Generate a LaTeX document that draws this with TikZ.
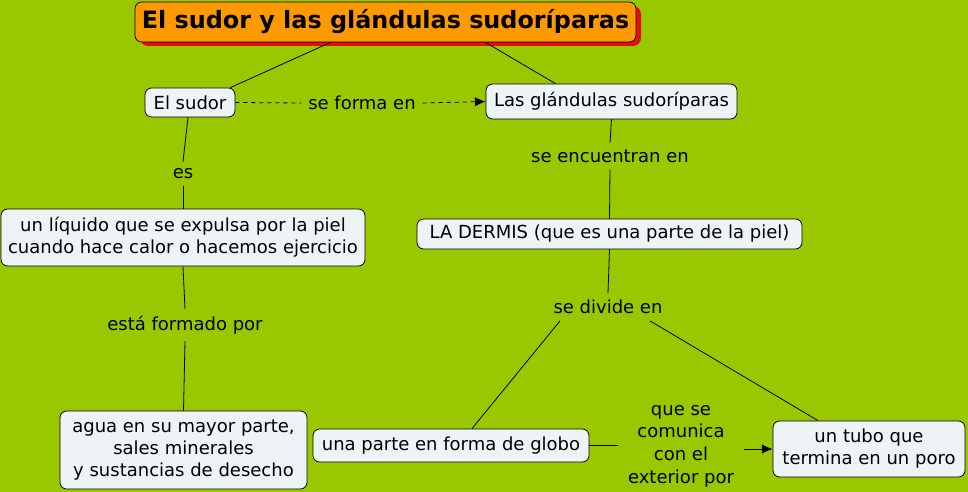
\documentclass[tikz,border=0pt]{standalone}
\usepackage{fontspec}
\setmainfont{DejaVu Sans}
\usetikzlibrary{arrows.meta,calc}
\definecolor{bg}{HTML}{99C800}
\definecolor{boxfill}{HTML}{EEF4F6}
\definecolor{titlefill}{HTML}{FF9900}
\definecolor{shadowred}{HTML}{E01010}
\begin{document}
\begin{tikzpicture}[x=0.75pt,y=-0.75pt,
  concept/.style={draw=black,fill=boxfill,rounded corners=5pt,align=center,inner sep=0pt,line width=0.6pt,font=\fontsize{13.5}{16.5}\selectfont},
  lbl/.style={align=center,inner sep=5pt,font=\fontsize{13.5}{16.5}\selectfont},
  conn/.style={line width=0.6pt},
  arr/.style={line width=0.6pt,-{Latex[length=8pt,width=7pt]}}]
\useasboundingbox (0,0) rectangle (968,492);
\fill[bg] (0,0) rectangle (968,492);
% title shadow and title
\fill[shadowred,rounded corners=6pt] (140,6) rectangle (641,46);
\node[concept,fill=titlefill,minimum width=501*0.75pt,minimum height=40*0.75pt,font=\bfseries\fontsize{17.9}{21}\selectfont] (title) at (385.5,22) {El sudor y las glándulas sudoríparas};
% concepts
\node[concept,minimum width=90*0.75pt,minimum height=29*0.75pt] (sudor) at (190,102.5) {El sudor};
\node[concept,minimum width=251*0.75pt,minimum height=35*0.75pt] (gland) at (611.5,101.5) {Las glándulas sudoríparas};
\node[concept,minimum width=364*0.75pt,minimum height=57*0.75pt] (liquido) at (183,237.5) {un líquido que se expulsa por la piel\\cuando hace calor o hacemos ejercicio};
\node[concept,minimum width=385*0.75pt,minimum height=30*0.75pt] (dermis) at (609.5,234) {LA DERMIS (que es una parte de la piel)};
\node[concept,minimum width=247*0.75pt,minimum height=78*0.75pt] (agua) at (183.5,450) {agua en su mayor parte,\\sales minerales\\y sustancias de desecho};
\node[concept,minimum width=276*0.75pt,minimum height=33*0.75pt] (globo) at (451,445.5) {una parte en forma de globo};
\node[concept,minimum width=192*0.75pt,minimum height=56*0.75pt] (tubo) at (869,449) {un tubo que\\termina en un poro};
% labels
\node[lbl] (forma) at (362,103) {se forma en};
\node[lbl] (es) at (183,174) {es};
\node[lbl] (formado) at (185,325) {está formado por};
\node[lbl] (encuentran) at (610,156) {se encuentran en};
\node[lbl] (divide) at (608,307) {se divide en};
\node[lbl,font=\fontsize{13.5}{17}\selectfont,inner sep=7pt] (comunica) at (681,446) {que se\\comunica\\con el\\exterior por};
% connectors
\draw[conn] ($(title.south)+(-55,0)$) -- ($(sudor.north east)+(-5,0)$);
\draw[conn] ($(title.south)+(100,0)$) -- ($(gland.north)+(-56,0)$);
\draw[conn,dashed] (sudor.east) -- (forma.west);
\draw[arr,dashed] (forma.east) -- (gland.west);
\draw[conn] ($(sudor.south)+(-2,0)$) -- (es.north);
\draw[conn] (es.south) -- (liquido.north);
\draw[conn] (liquido.south) -- (formado.north);
\draw[conn] (formado.south) -- (agua.north);
\draw[conn] (gland.south) -- (encuentran.north);
\draw[conn] (encuentran.south) -- (dermis.north);
\draw[conn] (dermis.south) -- (divide.north);
\draw[conn] ($(divide.south)+(-48,0)$) -- ($(globo.north)+(21,0)$);
\draw[conn] ($(divide.south)+(42,0)$) -- ($(tubo.north)+(-51,0)$);
\draw[conn] (globo.east) -- (comunica.west |- globo.east);
\draw[arr] (comunica.east |- tubo.west) -- (tubo.west);
\end{tikzpicture}
\end{document}
